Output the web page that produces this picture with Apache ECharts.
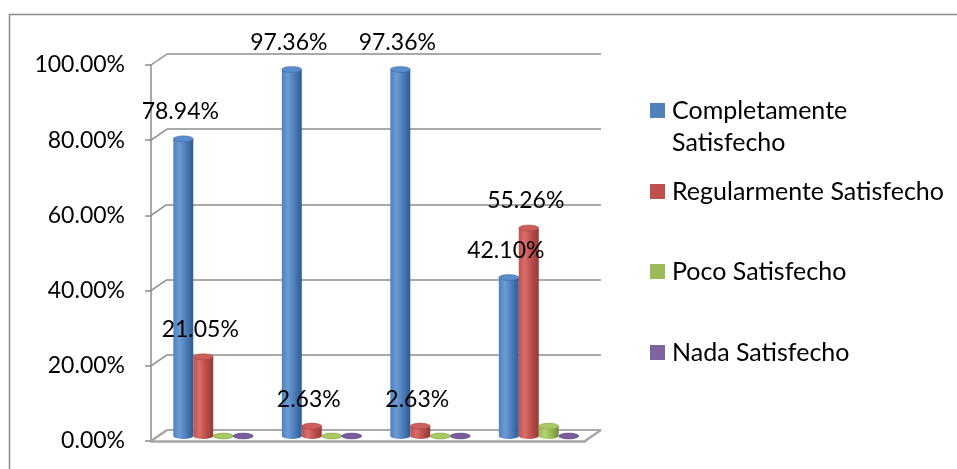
<!DOCTYPE html>
<html>
<head>
<meta charset="utf-8">
<script src="https://cdn.jsdelivr.net/npm/echarts@6/dist/echarts.min.js"></script>
<style>
html,body{margin:0;padding:0;background:#fff;}
#chart{width:957px;height:469px;}
</style>
</head>
<body>
<div id="chart"></div>
<script>
const categories = ['P1', 'P2', 'P3', 'P4'];
const seriesNames = ['Completamente Satisfecho', 'Regularmente Satisfecho', 'Poco Satisfecho', 'Nada Satisfecho'];
const completamente = [78.94, 97.36, 97.36, 42.10];
const regularmente = [21.05, 2.63, 2.63, 55.26];
const poco = [0, 0, 0, 2.63];
const nada = [0, 0, 0, 0];
const yTicks = [0, 20, 40, 60, 80, 100];

const seriesValues = [completamente, regularmente, poco, nada];
const showLabel = [true, true, false, false];
const palette = [
  {base: '#4F81BD', light: '#6c9ad3', dark: '#2f5b91', top: '#5b8ccb'},
  {base: '#C0504D', light: '#d86e6b', dark: '#923a38', top: '#cc5e5b'},
  {base: '#9BBB59', light: '#b5d472', dark: '#738d3d', top: '#a9c964'},
  {base: '#8064A2', light: '#9a80bb', dark: '#5c4579', top: '#7a5e9c'}
];
const FONT = '23px Lato';
const DEPTH = {dx: 16, dy: -11};

function bodyGrad(c) {
  return new echarts.graphic.LinearGradient(0, 0, 1, 0, [
    {offset: 0, color: c.base},
    {offset: 0.3, color: c.light},
    {offset: 0.6, color: c.base},
    {offset: 1, color: c.dark}
  ]);
}

function makeBarRender(sIdx) {
  return function (params, api) {
    const cat = api.value(0);
    const v = api.value(1);
    const base = api.coord([cat, 0]);
    const top = api.coord([cat, v]);
    const band = api.size([1, 0])[0];
    const bw = band * 0.184;
    const cx = base[0] + (sIdx - 1.5) * bw;
    const rx = bw / 2, ry = 3;
    const c = palette[sIdx];
    const children = [
      {type: 'rect', shape: {x: cx - rx, y: top[1], width: bw, height: Math.max(0, base[1] - top[1])},
       style: {fill: bodyGrad(c)}},
      {type: 'circle', shape: {cx: 0, cy: 0, r: rx}, x: cx, y: base[1], scaleY: ry / rx,
       style: {fill: bodyGrad(c)}},
      {type: 'circle', shape: {cx: 0, cy: 0, r: rx}, x: cx, y: top[1], scaleY: ry / rx,
       style: {fill: c.top, stroke: c.dark, lineWidth: 0.6}}
    ];
    if (showLabel[sIdx] && v > 0) {
      children.push({
        type: 'text', x: cx - 3, y: top[1] - 27, z2: 100,
        style: {text: v.toFixed(2) + '%', fill: '#000', font: FONT, align: 'center', verticalAlign: 'middle'}
      });
    }
    return {type: 'group', children: children};
  };
}

function renderDepth(params, api) {
  const v = api.value(0);
  const p = api.coord([0, v]);
  const x0 = params.coordSys.x;
  const y = p[1];
  const children = [
    {type: 'line', shape: {x1: x0, y1: y, x2: x0 + DEPTH.dx, y2: y + DEPTH.dy},
     style: {stroke: v === 0 ? '#a6a6a6' : '#8c8c8c', lineWidth: v === 0 ? 2.5 : 1.5}}
  ];
  if (v === 0) {
    const x1 = params.coordSys.x + params.coordSys.width;
    children.push({type: 'line', shape: {x1: x1, y1: y, x2: x1 + DEPTH.dx, y2: y + DEPTH.dy},
      style: {stroke: '#a6a6a6', lineWidth: 2.5}});
  }
  return {type: 'group', children: children};
}

const chart = echarts.init(document.getElementById('chart'));

const series = [];
seriesValues.forEach(function (vals, i) {
  series.push({
    name: seriesNames[i],
    type: 'custom',
    xAxisIndex: 2, yAxisIndex: 2,
    renderItem: makeBarRender(i),
    itemStyle: {color: palette[i].base},
    encode: {x: 0, y: 1},
    data: vals.map(function (v, k) { return [k, v]; }),
    z: 5
  });
});
series.push({
  name: 'depth',
  type: 'custom',
  xAxisIndex: 0, yAxisIndex: 0,
  renderItem: renderDepth,
  encode: {y: 0},
  data: yTicks.map(function (t) { return [t]; }),
  silent: true,
  z: 2
});

const legendBase = {
  orient: 'vertical', left: 650, padding: 0, itemWidth: 15, itemHeight: 15,
  icon: 'rect', selectedMode: false,
  textStyle: {fontFamily: 'Lato', fontSize: 25, color: '#000', lineHeight: 32, padding: [0, 0, 0, 2]}
};

const option = {
  animation: false,
  backgroundColor: '#fff',
  textStyle: {fontFamily: 'Lato'},
  graphic: [{
    type: 'rect', shape: {x: 9.5, y: 14.5, width: 960, height: 470},
    style: {fill: 'none', stroke: '#8a8a8a', lineWidth: 1.5}, silent: true, z: -1
  }],
  legend: [
    Object.assign({}, legendBase, {
      top: 62.5, data: [seriesNames[0]],
      formatter: function () { return '\nCompletamente\nSatisfecho'; }
    }),
    Object.assign({}, legendBase, {top: 175.5, data: [seriesNames[1]]}),
    Object.assign({}, legendBase, {top: 255.5, data: [seriesNames[2]]}),
    Object.assign({}, legendBase, {top: 336.5, data: [seriesNames[3]]})
  ],
  grid: [
    {left: 151, top: 65, width: 434, height: 376},
    {left: 167, top: 54, width: 434, height: 376},
    {left: 159, top: 59.5, width: 434, height: 376.5}
  ],
  xAxis: [
    {gridIndex: 0, type: 'category', data: categories, axisLabel: {show: false}, axisTick: {show: false},
     axisLine: {show: true, lineStyle: {color: '#a6a6a6', width: 2.5}}, splitLine: {show: false}},
    {gridIndex: 1, type: 'category', data: categories, show: false},
    {gridIndex: 2, type: 'category', data: categories, show: false}
  ],
  yAxis: [
    {gridIndex: 0, type: 'value', min: 0, max: 100, interval: 20,
     axisLine: {show: true, lineStyle: {color: '#8c8c8c', width: 1.5}},
     axisTick: {show: true, length: 6, lineStyle: {color: '#8c8c8c', width: 1.5}},
     axisLabel: {margin: 26, color: '#000', fontFamily: 'Lato', fontSize: 23,
       formatter: function (v) { return v.toFixed(2) + '%'; }},
     splitLine: {show: false}},
    {gridIndex: 1, type: 'value', min: 0, max: 100, interval: 20,
     axisLine: {show: false}, axisTick: {show: false}, axisLabel: {show: false},
     splitLine: {show: true, lineStyle: {color: '#8c8c8c', width: 1.5}}},
    {gridIndex: 2, type: 'value', min: 0, max: 100, interval: 20, show: false}
  ],
  series: series
};
chart.setOption(option);
</script>
</body>
</html>
